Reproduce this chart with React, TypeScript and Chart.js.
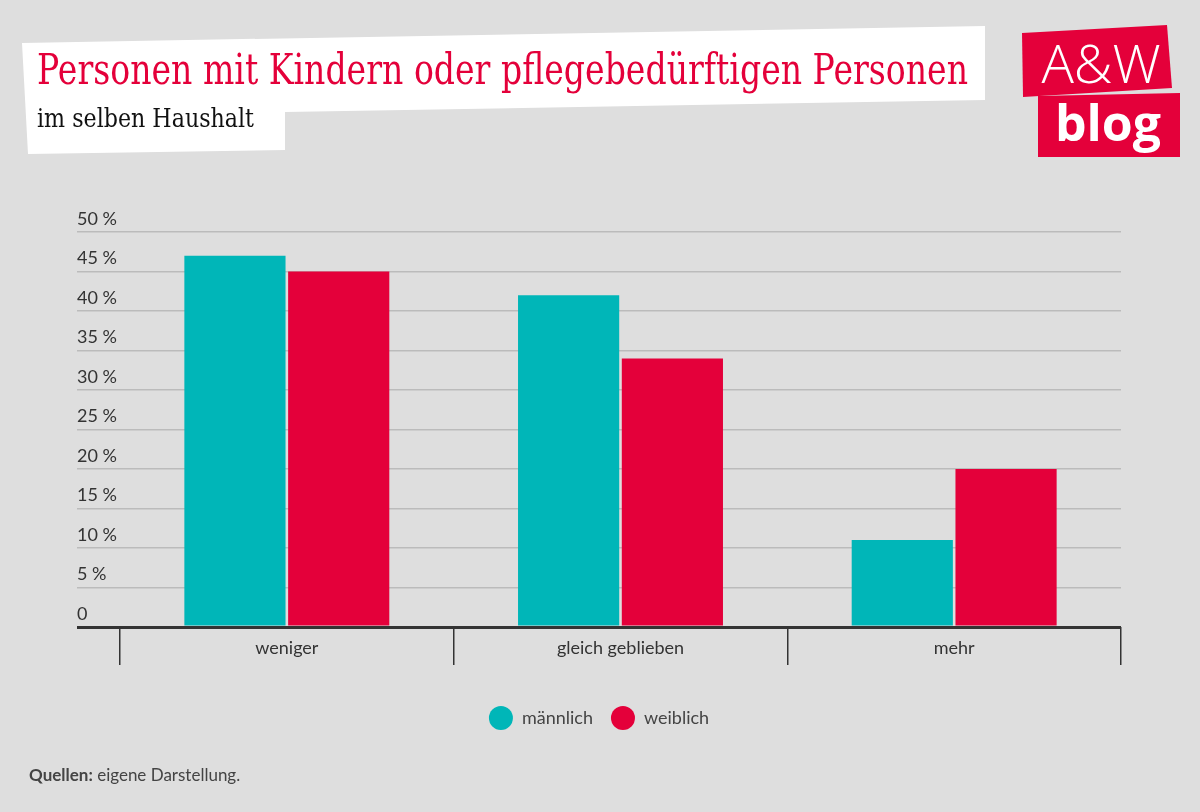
import React, { useEffect, useRef } from "react";
import { Chart, registerables } from "chart.js";

Chart.register(...registerables);

const categories = ["weniger", "gleich geblieben", "mehr"];
const maleValues = [47, 42, 11];
const femaleValues = [45, 34, 20];
const seriesLabels = ["männlich", "weiblich"];
const yMin = 0;
const yMax = 50;
const yStep = 5;

const TEAL = "#00b6b8";
const RED = "#e4003a";
const FONT = "Lato, 'Open Sans', sans-serif";

export default function App() {
  const canvasRef = useRef<HTMLCanvasElement | null>(null);

  useEffect(() => {
    const canvas = canvasRef.current;
    if (!canvas) return;
    const chart = new Chart(canvas, {
      type: "bar",
      data: {
        labels: categories,
        datasets: [
          {
            label: seriesLabels[0],
            data: maleValues,
            backgroundColor: TEAL,
            borderWidth: 0,
            categoryPercentage: 0.622,
            barPercentage: 0.975,
          },
          {
            label: seriesLabels[1],
            data: femaleValues,
            backgroundColor: RED,
            borderWidth: 0,
            categoryPercentage: 0.622,
            barPercentage: 0.975,
          },
        ],
      },
      options: {
        animation: false,
        responsive: false,
        devicePixelRatio: 1,
        layout: { padding: { left: 77, right: 79, top: 232, bottom: 75 } },
        plugins: {
          tooltip: { enabled: false },
          legend: {
            position: "bottom",
            labels: {
              usePointStyle: true,
              pointStyle: "circle",
              pointStyleWidth: 24,
              boxHeight: 17,
              padding: 18,
              color: "#444",
              font: { family: FONT, size: 18 },
            },
          },
        },
        scales: {
          x: {
            offset: true,
            border: { display: false },
            grid: {
              offset: true,
              drawOnChartArea: false,
              drawTicks: true,
              tickLength: 38,
              color: "#333",
              lineWidth: 1.5,
            },
            ticks: {
              padding: -28,
              color: "#333",
              font: { family: FONT, size: 18 },
            },
            afterFit: (s: any) => {
              s.height = 64;
            },
          },
          y: {
            min: yMin,
            max: yMax,
            border: { display: false },
            grid: {
              color: (ctx: any) => (ctx.tick && ctx.tick.value === 0 ? "#333" : "#bbb"),
              lineWidth: (ctx: any) => (ctx.tick && ctx.tick.value === 0 ? 3 : 1.5),
              tickLength: 43,
            },
            ticks: {
              stepSize: yStep,
              crossAlign: "far",
              labelOffset: -13,
              padding: 0,
              color: "#333",
              font: { family: FONT, size: 18 },
              callback: (v: any) => (v === 0 ? "0" : `${v} %`),
            },
            afterFit: (s: any) => {
              s.width = 43;
            },
          },
        },
      } as any,
    });
    return () => chart.destroy();
  }, []);

  return (
    <div
      style={{
        position: "fixed",
        left: 0,
        top: 0,
        width: 1200,
        height: 812,
        background: "#dedede",
        overflow: "hidden",
      }}
    >
      <canvas
        ref={canvasRef}
        width={1200}
        height={812}
        style={{ position: "absolute", left: 0, top: 0, width: 1200, height: 812 }}
      />
      <svg
        width={1200}
        height={812}
        style={{ position: "absolute", left: 0, top: 0, pointerEvents: "none" }}
      >
        <polygon points="22,43 985,26 985,100 285,112 285,150 28,154" fill="#ffffff" />
        <text
          x={37}
          y={84}
          fill={RED}
          fontFamily="'DejaVu Serif', serif"
          fontSize={42}
          textLength={931}
          lengthAdjust="spacingAndGlyphs"
        >
          Personen mit Kindern oder pflegebedürftigen Personen
        </text>
        <text
          x={37}
          y={127}
          fill="#111"
          fontFamily="'DejaVu Serif', serif"
          fontSize={26}
          textLength={217}
          lengthAdjust="spacingAndGlyphs"
        >
          im selben Haushalt
        </text>
        <polygon points="1022,33 1167,25 1172,88 1023,97" fill={RED} />
        <polygon points="1038,96 1180,93 1180,157 1038,157" fill={RED} />
        <text
          x={1101}
          y={83}
          textAnchor="middle"
          fill="#fff"
          fontFamily="'Open Sans', sans-serif"
          fontWeight={300}
          fontSize={54}
        >
          A&amp;W
        </text>
        <text
          x={1108}
          y={141}
          textAnchor="middle"
          fill="#fff"
          fontFamily="'Open Sans', sans-serif"
          fontWeight={700}
          fontSize={50}
        >
          blog
        </text>
        <text x={29} y={781} fill="#444" fontFamily={FONT} fontSize={17}>
          <tspan fontWeight={700}>Quellen:</tspan> eigene Darstellung.
        </text>
      </svg>
    </div>
  );
}
